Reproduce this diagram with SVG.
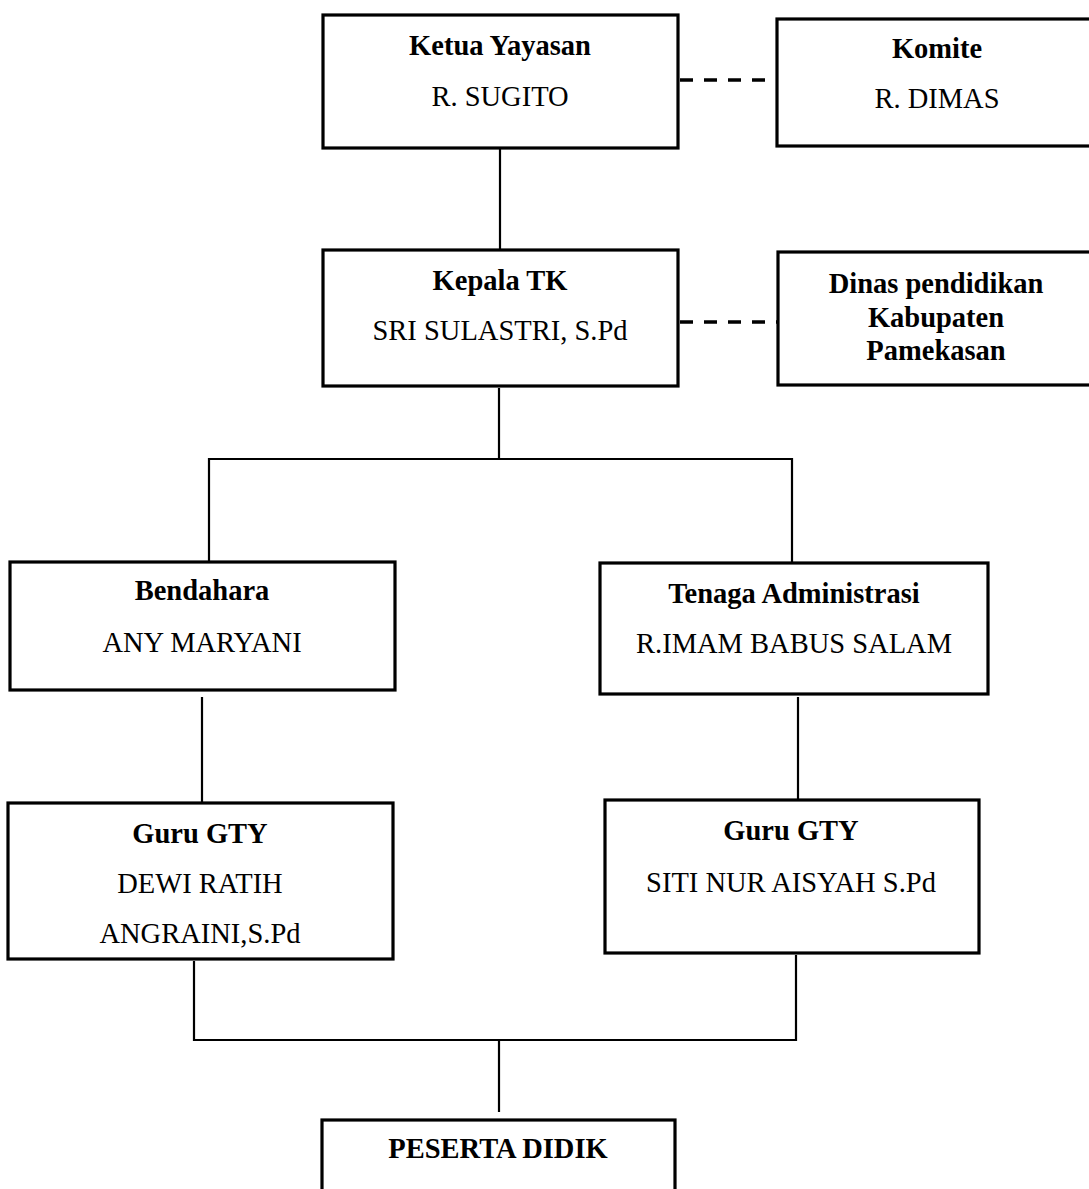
<svg xmlns="http://www.w3.org/2000/svg" width="1089" height="1189" viewBox="0 0 1089 1189">
<style>
.box{fill:#fff;stroke:#000;stroke-width:3.2}
.ln{stroke:#000;stroke-width:2.2;fill:none}
.dash{stroke:#000;stroke-width:3.5;fill:none;stroke-dasharray:13 11}
text{font-family:"Liberation Serif","Times New Roman",serif;font-size:28.5px;text-anchor:middle;fill:#000}
.b{font-weight:bold}
</style>
<rect width="1089" height="1189" fill="#fff"/>
<g id="connectors">
<line class="ln" x1="500" y1="148" x2="500" y2="250"/>
<line class="dash" x1="680" y1="80" x2="777" y2="80"/>
<line class="dash" x1="680" y1="322" x2="778" y2="322"/>
<line class="ln" x1="499" y1="388" x2="499" y2="459"/>
<polyline class="ln" points="209,562 209,459 792,459 792,563"/>
<line class="ln" x1="202" y1="697" x2="202" y2="803"/>
<line class="ln" x1="798" y1="697" x2="798" y2="800"/>
<polyline class="ln" points="194,961 194,1040 796,1040 796,955"/>
<line class="ln" x1="499" y1="1040" x2="499" y2="1112"/>
</g>
<g id="ketua">
<rect class="box" x="323" y="15" width="355" height="133"/>
<text class="b" x="500" y="55">Ketua Yayasan</text>
<text x="500" y="106">R. SUGITO</text>
</g>
<g id="komite">
<rect class="box" x="777" y="19" width="330" height="127"/>
<text class="b" x="937" y="58">Komite</text>
<text x="937" y="108">R. DIMAS</text>
</g>
<g id="kepala">
<rect class="box" x="323" y="250" width="355" height="136"/>
<text class="b" x="500" y="290">Kepala TK</text>
<text x="500" y="340">SRI SULASTRI, S.Pd</text>
</g>
<g id="dinas">
<rect class="box" x="778" y="252" width="330" height="133"/>
<text class="b" x="936" y="293">Dinas pendidikan</text>
<text class="b" x="936" y="327">Kabupaten</text>
<text class="b" x="936" y="360">Pamekasan</text>
</g>
<g id="bendahara">
<rect class="box" x="10" y="562" width="385" height="128"/>
<text class="b" x="202" y="600">Bendahara</text>
<text x="202" y="652">ANY MARYANI</text>
</g>
<g id="tenaga">
<rect class="box" x="600" y="563" width="388" height="131"/>
<text class="b" x="794" y="603">Tenaga Administrasi</text>
<text x="794" y="653">R.IMAM BABUS SALAM</text>
</g>
<g id="guru-kiri">
<rect class="box" x="8" y="803" width="385" height="156"/>
<text class="b" x="200" y="843">Guru GTY</text>
<text x="200" y="893">DEWI RATIH</text>
<text x="200" y="943">ANGRAINI,S.Pd</text>
</g>
<g id="guru-kanan">
<rect class="box" x="605" y="800" width="374" height="153"/>
<text class="b" x="791" y="840">Guru GTY</text>
<text x="791" y="892">SITI NUR AISYAH S.Pd</text>
</g>
<g id="peserta">
<rect class="box" x="322" y="1120" width="353" height="100"/>
<text class="b" x="498" y="1158">PESERTA DIDIK</text>
</g>
</svg>
